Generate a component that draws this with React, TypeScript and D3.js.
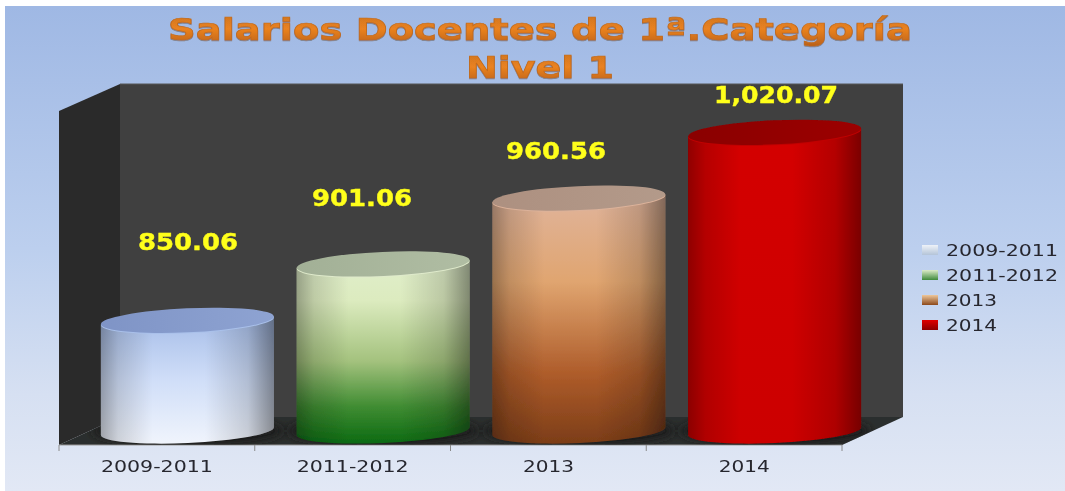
import React from "react";
import * as d3 from "d3";

const categories = ["2009-2011", "2011-2012", "2013", "2014"];
const values = [850.06, 901.06, 960.56, 1020.07];
const valueLabels = ["850.06", "901.06", "960.56", "1,020.07"];
const titleLines = ["Salarios Docentes de 1ª.Categoría", "Nivel 1"];
const verticalStops = [
  [["0%", "#a6bde8"], ["50%", "#d0def8"], ["100%", "#f0f4fc"]],
  [["0%", "#e0eecb"], ["22%", "#dcebbf"], ["55%", "#a4c27e"], ["80%", "#3f8c32"], ["100%", "#0c6a12"]],
  [["0%", "#e0b49c"], ["35%", "#e0a570"], ["72%", "#ae5c2a"], ["100%", "#7c3d18"]],
  [["0%", "#d40000"], ["100%", "#cc0000"]],
];
const topColors = [["#7f94c6", "#8ea3d2"], ["#a2b096", "#b0bda3"], ["#ad9080", "#b39a8a"], ["#8a0000", "#9c0000"]];
const topEdges = ["#a9c0ea", "#dfeacb", "#dcb29a", "#c00000"];
const legendColors = [["#eef2f8", "#b4c4d8"], ["#dcecc8", "#3f8a3c"], ["#eec79a", "#8c4a1c"], ["#e00000", "#8c0000"]];
const labelCentres = [[188, 250], [362, 206], [556, 159], [776, 103]];
const labelWidths = [100, 100, 100, 124];

const W = 1065, H = 491;
const FONT = "'DejaVu Sans', Verdana, sans-serif";
const textWidth = (c: string) => (c.length > 4 ? 112 : 51);

export default function App() {
  const frontLeft = 59, frontRight = 842, floorY = 445, depthX = 61, depthY = 28, wallTop = 84;
  const x = d3.scaleBand<string>().domain(categories).range([frontLeft, frontRight]).paddingInner(0).paddingOuter(0);
  const y = d3.scaleLinear().domain([750, 1050]).range([431, 99.2]);
  const barW = 173, rx = barW / 2, ry = 12, tilt = -2.6;
  const cx = (c: string) => (x(c) as number) + x.bandwidth() / 2 + depthX / 2;
  const base = y(750);
  const floorPoints = `${frontLeft},${floorY} ${frontRight},${floorY} ${frontRight + depthX},${floorY - depthY} ${frontLeft + depthX},${floorY - depthY}`;

  const cylinder = (c: string) => {
    const cxx = cx(c), v = values[categories.indexOf(c)], yt = y(v);
    const dl = rx * Math.tan((tilt * Math.PI) / 180);
    const l = cxx - rx, r = cxx + rx;
    return `M${l},${yt - dl} L${r},${yt + dl} L${r},${base + dl} A${rx},${ry} ${tilt} 0 1 ${l},${base - dl} Z`;
  };

  return (
    <svg width={W} height={H} style={{ position: "absolute", left: 0, top: 0, background: "#fff" }}>
      <defs>
        <clipPath id="floorClip"><polygon points={floorPoints} /></clipPath>
        <linearGradient id="bg" x1="0" x2="0" y1="0" y2="1">
          <stop offset="0%" stopColor="#9fb8e4" />
          <stop offset="50%" stopColor="#bccfee" />
          <stop offset="80%" stopColor="#d6e0f2" />
          <stop offset="100%" stopColor="#e2e8f5" />
        </linearGradient>
        <linearGradient id="title" x1="0" x2="0" y1="0" y2="1">
          <stop offset="0%" stopColor="#c8711f" />
          <stop offset="50%" stopColor="#ea8220" />
          <stop offset="100%" stopColor="#b85f18" />
        </linearGradient>
        <filter id="soft" x="-5%" y="-5%" width="110%" height="110%"><feGaussianBlur stdDeviation="0.55" /></filter>
        <filter id="shadowBlur" x="-20%" y="-50%" width="140%" height="200%"><feGaussianBlur stdDeviation="4" /></filter>
        <filter id="titleShadow" x="-5%" y="-20%" width="110%" height="140%">
          <feDropShadow dx="0" dy="1" stdDeviation="0.7" floodColor="#6a5a50" floodOpacity="0.6" />
        </filter>
        <linearGradient id="shade" x1="0" x2="1" y1="0" y2="0">
          <stop offset="0%" stopColor="#000" stopOpacity="0.32" />
          <stop offset="10%" stopColor="#000" stopOpacity="0.14" />
          <stop offset="30%" stopColor="#000" stopOpacity="0" />
          <stop offset="60%" stopColor="#000" stopOpacity="0" />
          <stop offset="85%" stopColor="#000" stopOpacity="0.15" />
          <stop offset="100%" stopColor="#000" stopOpacity="0.42" />
        </linearGradient>
        {verticalStops.map((stops, i) => (
          <linearGradient key={i} id={`v${i}`} x1="0" x2="0" y1="0" y2="1">
            {stops.map(([o, col]) => <stop key={o} offset={o} stopColor={col} />)}
          </linearGradient>
        ))}
        {topColors.map((t, i) => (
          <linearGradient key={i} id={`t${i}`} x1="0" x2="1" y1="0" y2="0">
            <stop offset="0%" stopColor={t[0]} />
            <stop offset="100%" stopColor={t[1]} />
          </linearGradient>
        ))}
        {legendColors.map((t, i) => (
          <linearGradient key={i} id={`l${i}`} x1="0" x2="0" y1="0" y2="1">
            <stop offset="0%" stopColor={t[0]} />
            <stop offset="100%" stopColor={t[1]} />
          </linearGradient>
        ))}
      </defs>
      <rect x={5} y={6} width={W - 5} height={H - 6} fill="url(#bg)" />
      <g filter="url(#soft)">
        <polygon points={`${frontLeft},${floorY - 334} ${frontLeft + depthX},${wallTop} ${frontLeft + depthX},${floorY - depthY} ${frontLeft},${floorY}`} fill="#2b2b2b" />
        <rect x={frontLeft + depthX} y={wallTop} width={frontRight - frontLeft} height={floorY - depthY - wallTop} fill="#404040" />
        <line x1={frontLeft + depthX} x2={frontRight + depthX} y1={wallTop} y2={wallTop} stroke="#585858" />
        <polygon points={floorPoints} fill="#2c2f2e" />
        <line x1={frontLeft} x2={frontRight} y1={floorY} y2={floorY} stroke="#9a9a9a" />
        {d3.range(categories.length + 1).map((i) => {
          const tx = frontLeft + i * x.step();
          return <line key={i} x1={tx} x2={tx} y1={floorY} y2={floorY + 6} stroke="#8a8a8a" />;
        })}
        {categories.map((c, i) => {
          const cxx = cx(c), yt = y(values[i]);
          return (
            <g key={c}>
              <g clipPath="url(#floorClip)">
                <ellipse cx={cxx} cy={base} rx={rx + 9} ry={ry + 2} fill="#1c1c1c" filter="url(#shadowBlur)" />
              </g>
              <path d={cylinder(c)} fill={`url(#v${i})`} />
              <path d={cylinder(c)} fill="url(#shade)" />
              <ellipse cx={cxx} cy={yt + 1} rx={rx} ry={ry} transform={`rotate(${tilt} ${cxx} ${yt})`} fill={topEdges[i]} />
              <ellipse cx={cxx} cy={yt} rx={rx} ry={ry} transform={`rotate(${tilt} ${cxx} ${yt})`} fill={`url(#t${i})`} />
            </g>
          );
        })}
      </g>
      <g filter="url(#soft)">
        <g fontFamily={FONT} fontWeight="bold" fill="url(#title)" stroke="#c26a1c" strokeWidth={0.7} filter="url(#titleShadow)" textAnchor="middle">
          <text x={540} y={40} fontSize={31} textLength={744} lengthAdjust="spacingAndGlyphs">{titleLines[0]}</text>
          <text x={540} y={78} fontSize={31} textLength={148} lengthAdjust="spacingAndGlyphs">{titleLines[1]}</text>
        </g>
        {categories.map((c, i) => (
          <text key={c} x={labelCentres[i][0]} y={labelCentres[i][1]} fontFamily={FONT} fontWeight="bold" fontSize={23} fill="#ffff1a" stroke="#ffff1a" strokeWidth={0.4} textAnchor="middle" textLength={labelWidths[i]} lengthAdjust="spacingAndGlyphs">{valueLabels[i]}</text>
        ))}
        {categories.map((c) => (
          <text key={c} x={(x(c) as number) + x.bandwidth() / 2} y={472} fontFamily={FONT} fontSize={16} fill="#26262e" textAnchor="middle" textLength={textWidth(c)} lengthAdjust="spacingAndGlyphs">{c}</text>
        ))}
        {categories.map((c, i) => (
          <g key={c}>
            <rect x={922} y={245 + i * 25} width={16} height={10} fill={`url(#l${i})`} />
            <text x={946} y={256 + i * 25} fontFamily={FONT} fontSize={16} fill="#26262e" textLength={textWidth(c)} lengthAdjust="spacingAndGlyphs">{c}</text>
          </g>
        ))}
      </g>
    </svg>
  );
}
